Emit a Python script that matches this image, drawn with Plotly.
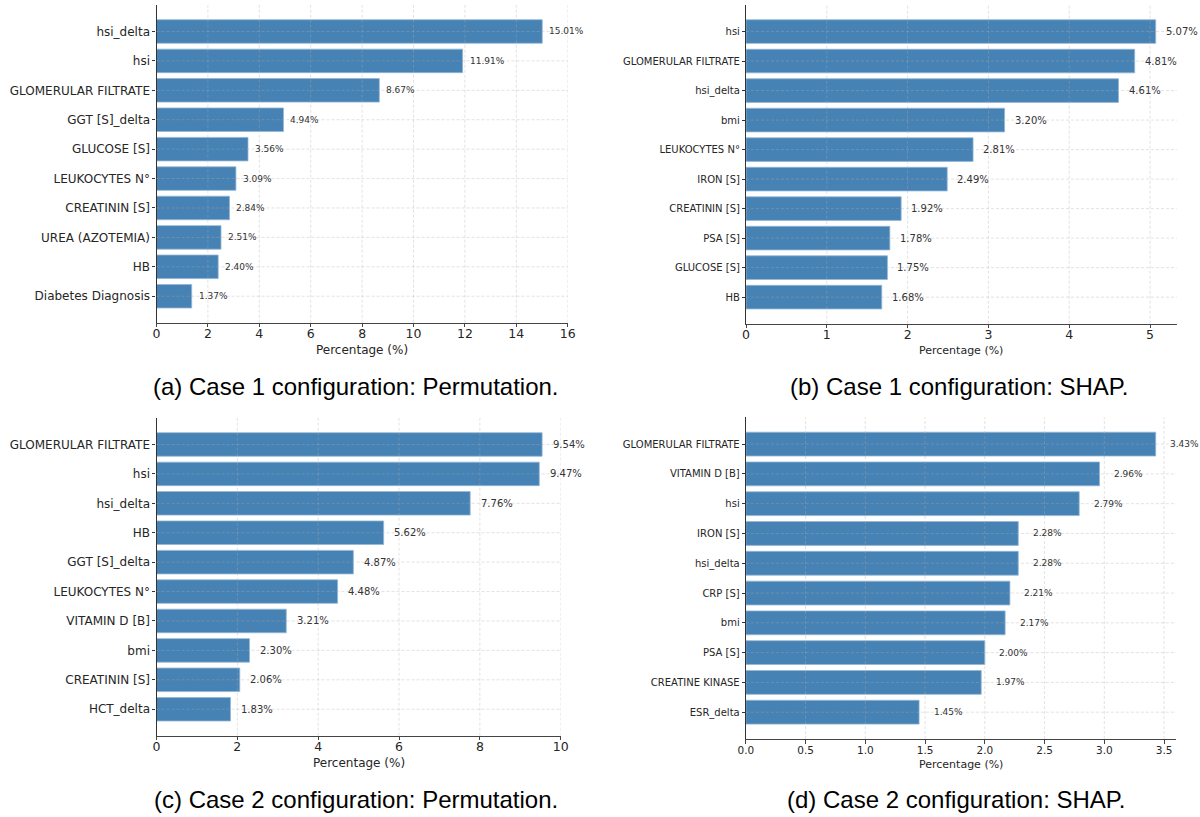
import plotly.graph_objects as go

# Feature importances (percentage), listed from top bar to bottom bar
perm_case1_features = ["hsi_delta", "hsi", "GLOMERULAR FILTRATE", "GGT [S]_delta", "GLUCOSE [S]",
                       "LEUKOCYTES N°", "CREATININ [S]", "UREA (AZOTEMIA)", "HB", "Diabetes Diagnosis"]
perm_case1_values = [15.01, 11.91, 8.67, 4.94, 3.56, 3.09, 2.84, 2.51, 2.40, 1.37]

shap_case1_features = ["hsi", "GLOMERULAR FILTRATE", "hsi_delta", "bmi", "LEUKOCYTES N°",
                       "IRON [S]", "CREATININ [S]", "PSA [S]", "GLUCOSE [S]", "HB"]
shap_case1_values = [5.07, 4.81, 4.61, 3.20, 2.81, 2.49, 1.92, 1.78, 1.75, 1.68]

perm_case2_features = ["GLOMERULAR FILTRATE", "hsi", "hsi_delta", "HB", "GGT [S]_delta",
                       "LEUKOCYTES N°", "VITAMIN D [B]", "bmi", "CREATININ [S]", "HCT_delta"]
perm_case2_values = [9.54, 9.47, 7.76, 5.62, 4.87, 4.48, 3.21, 2.30, 2.06, 1.83]

shap_case2_features = ["GLOMERULAR FILTRATE", "VITAMIN D [B]", "hsi", "IRON [S]", "hsi_delta",
                       "CRP [S]", "bmi", "PSA [S]", "CREATINE KINASE", "ESR_delta"]
shap_case2_values = [3.43, 2.96, 2.79, 2.28, 2.28, 2.21, 2.17, 2.00, 1.97, 1.45]

captions = ["(a) Case 1 configuration: Permutation.",
            "(b) Case 1 configuration: SHAP.",
            "(c) Case 2 configuration: Permutation.",
            "(d) Case 2 configuration: SHAP."]

x_ticks_a = [0, 2, 4, 6, 8, 10, 12, 14, 16]
x_ticks_b = [0, 1, 2, 3, 4, 5]
x_ticks_c = [0, 2, 4, 6, 8, 10]
x_ticks_d = [0.0, 0.5, 1.0, 1.5, 2.0, 2.5, 3.0, 3.5]

x_title = "Percentage (%)"

W, H = 1200, 817
BAR = "#4682B4"
GRID = "rgba(175,175,175,0.45)"
GRID_DASH = "3px,2px"
TICK_FONT = "DejaVu Sans"

panels = [
    dict(feat=perm_case1_features, val=perm_case1_values, ticks=x_ticks_a, xr=[0, 16],
         px=(156.5, 567.7), py=(5, 322.7), yfs=12, xfs=12.5, vfs=9, tfs=12, shift=5,
         tickfmt=None, cap=(356, 387), tgap=27, lso=-4),
    dict(feat=shap_case1_features, val=shap_case1_values, ticks=x_ticks_b, xr=[0, 5.33],
         px=(746, 1176.7), py=(5, 323.7), yfs=10, xfs=12.5, vfs=10, tfs=11, shift=8,
         tickfmt=None, cap=(959, 387), tgap=26.5, lso=-4),
    dict(feat=perm_case2_features, val=perm_case2_values, ticks=x_ticks_c, xr=[0, 10],
         px=(156.5, 560.7), py=(418, 735.7), yfs=12, xfs=12.5, vfs=10, tfs=12, shift=8.5,
         tickfmt=None, cap=(356, 799), tgap=27, lso=-4),
    dict(feat=shap_case2_features, val=shap_case2_values, ticks=x_ticks_d, xr=[0, 3.6],
         px=(745.8, 1176), py=(417.3, 739), yfs=10, xfs=10.5, vfs=9, tfs=11, shift=12.5,
         tickfmt=".1f", cap=(956, 799), tgap=25, lso=-2),
]

fig = go.Figure()
annotations = []
shapes = []

for i, p in enumerate(panels, start=1):
    xa = "x" if i == 1 else f"x{i}"
    ya = "y" if i == 1 else f"y{i}"
    n = len(p["feat"])
    pos = list(range(n))

    fig.add_trace(go.Bar(
        x=p["val"], y=pos, orientation="h", width=0.8,
        marker=dict(color=BAR, line=dict(color="#93b6d6", width=0.8)),
        xaxis=xa, yaxis=ya, showlegend=False, hoverinfo="x+y",
    ))

    xdom = [p["px"][0] / W, p["px"][1] / W]
    ydom = [1 - p["py"][1] / H, 1 - p["py"][0] / H]

    xkey = "xaxis" if i == 1 else f"xaxis{i}"
    ykey = "yaxis" if i == 1 else f"yaxis{i}"
    fig.layout[xkey] = dict(
        domain=xdom, anchor=ya, range=p["xr"], tickmode="array", tickvals=p["ticks"],
        tickformat=p["tickfmt"], showgrid=False, zeroline=False, automargin=False,
        showline=True, linecolor="#444", linewidth=1.3,
        ticks="outside", ticklen=3.5, tickcolor="#444", tickwidth=1,
        ticklabelstandoff=p["lso"],
        tickfont=dict(family=TICK_FONT, size=p["xfs"], color="#262626"),
        fixedrange=True,
    )
    fig.layout[ykey] = dict(
        domain=ydom, anchor=xa, range=[n - 1 + 0.9, -0.9], tickmode="array",
        tickvals=pos, ticktext=p["feat"], showgrid=False, zeroline=False, automargin=False,
        showline=True, linecolor="#333", linewidth=1.2,
        ticks="outside", ticklen=3, tickcolor="#333", tickwidth=1,
        tickfont=dict(family=TICK_FONT, size=p["yfs"], color="#262626"),
        fixedrange=True,
    )

    # dashed grid drawn over the bars, at the x ticks and at each category
    for t in p["ticks"]:
        if t == 0:
            continue
        shapes.append(dict(type="line", layer="above", xref=xa, yref=f"{ya} domain",
                           x0=t, x1=t, y0=0, y1=1,
                           line=dict(color=GRID, width=0.8, dash=GRID_DASH)))
    for k in pos:
        shapes.append(dict(type="line", layer="above", xref=f"{xa} domain", yref=ya,
                           x0=0, x1=1, y0=k, y1=k,
                           line=dict(color=GRID, width=0.8, dash=GRID_DASH)))

    # value labels at the end of each bar
    for k, v in zip(pos, p["val"]):
        annotations.append(dict(
            x=v, y=k, xref=xa, yref=ya, text=f"{v:.2f}%", showarrow=False,
            xanchor="left", yanchor="middle", xshift=p["shift"],
            font=dict(family=TICK_FONT, size=p["vfs"], color="#333"),
        ))

    # x-axis title under the tick labels
    annotations.append(dict(
        x=0.5, y=0, xref=f"{xa} domain", yref=f"{ya} domain", text=x_title,
        showarrow=False, xanchor="center", yanchor="middle", yshift=-p["tgap"],
        font=dict(family=TICK_FONT, size=p["tfs"], color="#262626"),
    ))

    # sub-figure caption
    annotations.append(dict(
        x=p["cap"][0] / W, y=1 - p["cap"][1] / H, xref="paper", yref="paper",
        text=captions[i - 1], showarrow=False, xanchor="center", yanchor="middle",
        font=dict(family="Liberation Sans", size=24, color="#000"),
    ))

fig.update_layout(
    width=W, height=H, margin=dict(l=0, r=0, t=0, b=0),
    paper_bgcolor="white", plot_bgcolor="white",
    annotations=annotations, shapes=shapes, bargap=0.2,
)

fig.write_html("out.html")
